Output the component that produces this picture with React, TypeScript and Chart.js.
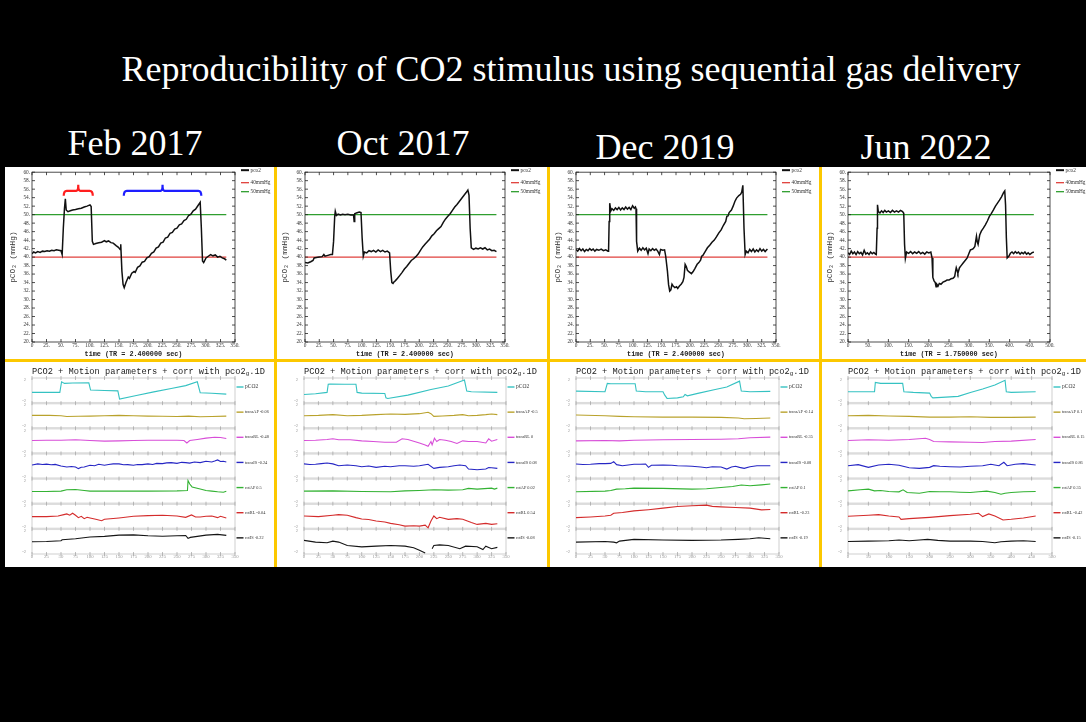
import React, { useEffect, useRef } from "react";
import { Chart, registerables } from "chart.js";

Chart.register(...registerables);

type Pair = [number, number | null];

// ---------------- text & axis settings ----------------
const slideTitle = "Reproducibility of CO2 stimulus using sequential gas delivery";
const panelDates = ["Feb 2017", "Oct 2017", "Dec 2019", "Jun 2022"];
const panelTR = ["2.400000", "2.400000", "2.400000", "1.750000"];
const panelXMax = [350, 350, 350, 500];
const panelXStep = [25, 25, 25, 50];

const pco2AxisMin = 20;
const pco2AxisMax = 60;
const pco2AxisStep = 2;
const refLevels = [40, 50];
const refLabels = ["40mmHg", "50mmHg"];

// brackets drawn over the Feb 2017 chart (time start, time end), level in mmHg
const bracketStarts = [54.7, 158.3];
const bracketEnds = [104.8, 291.9];
const bracketLevel = 55.6;

// ---------------- top charts: pCO2 (time, mmHg) ----------------
const feb2017Pco2: Pair[] = [
  [0, 40.8], [3, 41.2], [6, 41.0], [10, 41.3], [14, 41.1], [18, 41.4], [22, 41.3], [26, 41.5], [30, 41.4],
  [34, 41.6], [38, 41.5], [42, 41.7], [46, 41.6], [50, 41.5], [52, 40.6], [54, 46.8], [56, 51.5], [57.5, 53.7],
  [59, 51.1], [62, 50.7], [66, 50.9], [70, 51.1], [75, 51.2], [80, 51.4], [85, 51.5], [90, 51.8], [95, 52.0],
  [100, 52.3], [102, 51.9], [104, 43.7], [106, 43.0], [110, 43.2], [115, 43.4], [120, 43.5], [125, 43.9],
  [128, 43.6], [132, 43.8], [136, 43.4], [140, 43.3], [145, 42.7], [149, 42.3], [152, 41.8], [153, 43.0],
  [155, 36.7], [157, 33.6], [159, 32.8], [162, 34.0], [166, 35.3], [168, 35.0], [172, 36.2], [176, 36.6],
  [178, 36.4], [182, 37.6], [186, 37.9], [190, 38.8], [194, 39.0], [198, 39.8], [202, 40.1], [206, 40.9],
  [210, 41.2], [214, 42.1], [218, 42.4], [222, 43.3], [226, 43.5], [230, 44.5], [234, 44.7], [238, 45.6],
  [242, 45.8], [246, 46.6], [250, 46.8], [254, 47.6], [258, 47.8], [262, 48.6], [266, 48.9], [270, 49.8],
  [274, 50.1], [278, 50.9], [282, 51.3], [286, 52.1], [290, 52.9], [292, 46.8], [294, 39.1], [296, 38.7],
  [300, 39.8], [304, 40.2], [308, 40.6], [312, 40.3], [316, 40.5], [320, 40.0], [324, 40.2], [328, 39.8],
  [332, 39.6], [335, 39.3],
];

const oct2017Pco2: Pair[] = [
  [0, 38.7], [5, 38.6], [10, 38.9], [14, 39.2], [16, 39.8], [20, 39.9], [25, 40.0], [30, 40.1], [33, 40.6],
  [35, 40.2], [40, 40.4], [45, 40.6], [48, 40.6], [50, 43.7], [52, 49.6], [53, 50.8], [55, 49.8], [58, 50.1],
  [62, 49.9], [66, 50.1], [70, 50.0], [75, 50.1], [80, 49.9], [85, 49.9], [86, 48.4], [87, 50.2], [90, 50.4],
  [95, 50.6], [98, 50.5], [100, 44.5], [102, 40.2], [104, 41.2], [108, 41.0], [112, 41.5], [116, 41.3],
  [120, 41.6], [124, 41.2], [128, 41.7], [132, 41.3], [136, 41.6], [140, 41.2], [144, 41.4], [148, 41.0],
  [150, 36.7], [152, 34.0], [154, 33.8], [156, 34.2], [158, 34.4], [162, 35.0], [166, 35.7], [170, 36.4],
  [174, 37.2], [178, 37.8], [182, 38.5], [186, 39.2], [190, 39.6], [194, 40.1], [198, 40.7], [202, 41.6],
  [206, 42.4], [210, 43.0], [214, 43.6], [218, 44.2], [222, 45.0], [226, 45.5], [230, 46.2], [234, 46.7],
  [238, 47.2], [242, 48.2], [246, 49.0], [250, 49.6], [254, 50.2], [258, 51.0], [262, 51.8], [266, 52.4],
  [270, 53.1], [274, 53.8], [278, 54.5], [282, 55.2], [285, 55.8], [287, 54.6], [289, 46.8], [291, 42.2],
  [295, 41.8], [299, 42.1], [303, 41.9], [307, 42.2], [311, 41.9], [315, 42.2], [319, 41.7], [323, 41.9],
  [327, 41.5], [331, 41.6], [335, 41.3],
];

const dec2019Pco2: Pair[] = [
  [0, 41.8], [3, 41.4], [6, 42.0], [9, 41.5], [12, 41.9], [15, 41.3], [18, 41.8], [21, 41.5], [24, 42.0],
  [27, 41.6], [30, 41.9], [33, 41.4], [36, 41.8], [40, 41.6], [44, 41.9], [48, 41.5], [52, 41.7], [56, 41.4],
  [57, 41.5], [58, 48.4], [59, 52.7], [61, 50.9], [63, 51.4], [66, 51.0], [69, 51.6], [72, 51.2], [75, 51.7],
  [78, 51.1], [81, 51.6], [84, 51.2], [87, 51.8], [90, 51.3], [93, 51.7], [96, 51.2], [99, 52.1], [102, 51.5],
  [104, 51.8], [105, 51.4], [106, 43.7], [108, 41.4], [111, 42.1], [114, 41.6], [117, 42.2], [120, 41.7],
  [123, 42.1], [126, 40.8], [128, 41.9], [131, 41.5], [134, 42.0], [137, 41.6], [140, 41.9], [143, 41.4],
  [146, 40.6], [148, 41.8], [152, 41.6], [155, 41.7], [157, 40.2], [160, 36.7], [162, 33.5], [164, 32.0],
  [166, 32.3], [168, 33.6], [170, 33.2], [173, 32.8], [176, 33.0], [178, 32.6], [181, 33.2], [184, 33.6],
  [187, 34.2], [189, 35.2], [191, 38.3], [193, 37.8], [195, 36.9], [198, 36.5], [202, 36.1], [205, 36.6],
  [208, 37.3], [212, 38.3], [215, 38.7], [218, 39.3], [220, 40.2], [222, 40.4], [226, 41.3], [230, 42.2],
  [234, 42.8], [238, 43.5], [242, 44.0], [246, 44.8], [250, 45.7], [254, 46.4], [258, 47.5], [262, 48.4],
  [264, 49.6], [266, 49.7], [268, 50.5], [272, 51.1], [275, 52.0], [278, 53.1], [281, 53.9], [285, 54.5],
  [288, 54.8], [290, 55.3], [292, 56.9], [294, 46.8], [296, 40.6], [298, 41.4], [301, 41.0], [304, 41.8],
  [307, 41.3], [310, 41.9], [313, 41.2], [316, 41.7], [319, 41.3], [322, 42.0], [325, 41.4], [328, 41.8],
  [331, 41.3], [335, 41.9],
];

const jun2022Pco2: Pair[] = [
  [0, 41.0], [4, 40.6], [8, 41.4], [12, 40.8], [16, 41.2], [20, 40.6], [24, 41.3], [28, 40.8], [32, 41.1],
  [36, 40.5], [40, 41.6], [44, 40.7], [48, 41.0], [52, 40.6], [56, 41.2], [60, 40.8], [64, 41.1], [68, 40.7],
  [70, 40.6], [72, 46.8], [73, 52.3], [75, 50.7], [79, 50.4], [83, 50.9], [87, 50.5], [91, 51.0], [95, 50.6],
  [100, 50.9], [105, 50.5], [110, 51.0], [115, 50.6], [120, 50.9], [125, 50.6], [130, 51.0], [135, 50.7],
  [138, 50.3], [140, 43.0], [142, 39.7], [145, 41.2], [150, 40.9], [155, 41.3], [160, 40.8], [165, 41.2],
  [170, 40.9], [175, 41.3], [180, 40.8], [185, 41.1], [190, 40.7], [195, 41.2], [200, 41.0], [205, 41.2],
  [208, 39.8], [210, 35.2], [213, 34.4], [216, 34.0], [218, 33.0], [220, 33.6], [223, 33.2], [226, 33.8],
  [230, 33.6], [235, 34.1], [240, 34.3], [245, 34.6], [250, 34.6], [255, 34.9], [260, 35.0], [264, 35.4],
  [266, 36.5], [268, 37.5], [270, 36.9], [272, 36.2], [276, 37.5], [280, 38.0], [285, 38.6], [290, 39.2],
  [295, 39.8], [300, 41.0], [303, 41.7], [306, 41.8], [310, 42.0], [314, 42.5], [318, 44.9], [320, 43.6],
  [322, 43.0], [326, 45.2], [330, 46.1], [335, 46.8], [340, 47.6], [345, 48.5], [350, 49.6], [355, 50.3],
  [360, 51.1], [365, 52.0], [370, 52.7], [375, 53.4], [380, 54.2], [385, 55.2], [388, 55.6], [390, 52.3],
  [392, 44.5], [394, 39.8], [398, 40.2], [402, 40.9], [406, 41.2], [410, 40.8], [414, 41.3], [418, 40.9],
  [422, 41.2], [426, 40.7], [430, 41.1], [434, 40.8], [438, 41.2], [442, 40.7], [446, 41.0], [450, 40.6],
  [455, 41.0], [460, 41.2],
];

// ---------------- bottom charts: normalised traces (time, value) ----------------
const motionNames = ["pCO2", "transAP", "transRL", "transIS", "rotAP", "rotRL", "rotIS"];
const motionColors = ["#35c2c2", "#b9a22c", "#d84ed8", "#2626c4", "#33b233", "#d42c2c", "#151515"];

const feb2017Corr = [-0.06, -0.48, -0.24, 0.5, -0.04, -0.22];
const oct2017Corr = [-0.5, 0, 0.08, 0.02, 0.54, -0.08];
const dec2019Corr = [-0.14, -0.35, -0.08, 0.1, -0.23, -0.19];
const jun2022Corr = [0.1, 0.15, 0.86, 0.35, -0.42, -0.15];

const feb2017NormPco2: Pair[] = [[0, -0.35], [48, -0.35], [51, 1.68], [56, 1.37], [70, 1.45], [98, 1.49], [101, 0.1], [125, 0.0], [148, -0.05], [151, -1.62], [180, -0.95], [210, -0.25], [240, 0.4], [265, 0.95], [285, 1.68], [290, -0.41], [310, -0.5], [335, -0.67]];
const feb2017TransAP: Pair[] = [[0, 0.07], [30, 0.07], [50, 0], [60, -0.14], [80, -0.1], [100, -0.07], [125, 0], [150, 0.07], [175, 0], [200, -0.07], [225, -0.1], [250, -0.14], [270, -0.07], [290, -0.2], [310, -0.14], [335, -0.07]];
const feb2017TransRL: Pair[] = [[0, 0.06], [25, 0.13], [50, 0.13], [75, 0.2], [100, 0.06], [125, -0.06], [150, 0], [175, 0.06], [200, 0.13], [225, 0.13], [250, 0.13], [262, 0.06], [267, -0.4], [272, 0.06], [285, 0.26], [300, 0.52], [315, 0.7], [325, 0.65], [335, 0.45]];
const feb2017TransIS: Pair[] = [[0, 0.2], [10, 0.4], [18, 0.3], [25, 0.35], [33, 0.25], [40, 0.3], [50, 0], [60, -0.2], [68, -0.1], [75, -0.2], [80, -0.5], [85, -0.25], [90, -0.2], [100, 0.13], [108, 0.05], [115, 0.32], [125, 0.15], [132, 0.3], [140, 0.4], [150, 0.4], [158, 0.25], [165, 0.26], [175, 0.15], [182, 0.3], [190, 0.26], [200, 0.4], [208, 0.3], [215, 0.5], [225, 0.45], [232, 0.6], [240, 0.65], [250, 0.5], [258, 0.7], [265, 0.65], [272, 0.55], [280, 0.77], [290, 0.65], [300, 0.9], [310, 0.77], [315, 0.95], [320, 1.16], [325, 0.85], [330, 0.9], [335, 0.77]];
const feb2017RotAP: Pair[] = [[0, -0.06], [25, -0.06], [50, 0], [60, 0.26], [75, 0.32], [90, 0.13], [100, 0], [150, 0], [200, 0], [250, 0.06], [268, 0.13], [269, 2.0], [272, 1.35], [276, 0.8], [290, 0.4], [300, 0.13], [310, 0], [320, -0.13], [330, -0.2], [335, 0]];
const feb2017RotRL: Pair[] = [[0, -0.06], [25, -0.06], [45, 0.06], [55, 0.32], [60, 0.45], [65, 0.2], [70, 0.58], [75, 0.2], [80, -0.26], [85, 0], [90, -0.45], [95, -0.2], [100, -0.32], [110, -0.58], [120, -0.84], [125, -0.58], [150, -0.32], [175, 0], [200, 0.13], [225, 0.2], [250, 0.06], [265, -0.2], [275, 0.26], [282, -0.13], [290, -0.13], [300, 0], [310, 0.06], [320, -0.26], [325, 0], [335, -0.32]];
const feb2017RotIS: Pair[] = [[0, -0.06], [25, 0], [50, 0.13], [52, 0.32], [75, 0.52], [100, 0.84], [125, 0.97], [150, 1.2], [175, 1.26], [200, 1.07], [225, 1.0], [250, 1.07], [265, 1.13], [269, 0.58], [273, 0.77], [285, 0.97], [300, 1.2], [320, 1.35], [335, 1.16]];

const oct2017NormPco2: Pair[] = [[0, -0.74], [20, -0.61], [40, -0.35], [42, 1.2], [45, 1.25], [70, 1.2], [90, 1.2], [92, -0.35], [100, -0.48], [140, -0.55], [142, -1.39], [145, -1.5], [180, -0.87], [220, 0.22], [250, 0.87], [278, 2.0], [282, -0.1], [290, -0.22], [335, -0.35]];
const oct2017TransAP: Pair[] = [[0, 0], [25, 0.06], [50, 0.2], [75, 0], [100, 0.06], [125, 0.2], [150, 0.32], [175, 0.26], [200, 0.39], [215, 0.65], [220, 0.39], [225, -0.13], [240, -0.06], [260, 0.06], [275, 0.2], [285, 0], [300, 0.06], [315, 0.2], [325, 0.32], [335, 0.2]];
const oct2017TransRL: Pair[] = [[0, 0.06], [20, 0.13], [40, 0.26], [50, 0.4], [60, 0.2], [80, 0.2], [100, 0], [120, -0.13], [140, -0.26], [160, -0.26], [170, 0.4], [180, 0.26], [200, -0.4], [210, -0.77], [215, -1.03], [220, -0.13], [222, -0.77], [226, 0.5], [230, -0.13], [235, 0.26], [245, 0.13], [255, -0.13], [265, -0.5], [275, 0], [285, -0.13], [300, -0.13], [315, -0.4], [320, 0.39], [325, -0.06], [335, 0.26]];
const oct2017TransIS: Pair[] = [[0, 0.4], [10, 0.3], [20, 0.32], [30, 0.45], [40, 0.58], [50, 0.4], [60, 0.06], [75, 0.2], [90, 0.06], [100, -0.13], [112, 0], [125, -0.26], [140, -0.06], [150, -0.13], [165, 0.06], [175, 0.06], [190, -0.06], [200, 0.06], [215, 0.32], [225, -0.45], [235, -0.26], [250, -0.13], [260, 0.06], [270, 0.2], [280, 0.06], [285, -0.58], [300, -0.71], [315, -0.58], [320, -0.3], [325, -0.32], [335, -0.45]];
const oct2017RotAP: Pair[] = [[0, 0], [50, 0.06], [100, -0.06], [150, -0.13], [175, 0.06], [200, 0.13], [225, 0.26], [250, 0.2], [275, 0.26], [285, 0.52], [300, 0.39], [325, 0.58], [330, 0.4], [335, 0.58]];
const oct2017RotRL: Pair[] = [[0, 0.06], [25, -0.06], [50, 0.2], [60, 0.32], [75, 0.2], [90, -0.26], [100, -0.52], [112, -0.6], [125, -0.9], [140, -1.1], [150, -1.35], [165, -1.6], [175, -1.87], [190, -1.8], [200, -1.87], [210, -1.7], [215, -2.2], [220, -0.9], [225, 0.06], [230, -0.45], [235, -0.2], [250, -0.58], [265, -0.45], [275, -0.58], [290, -1.2], [300, -1.55], [315, -1.35], [325, -1.55], [335, -1.42]];
const oct2017RotIS: Pair[] = [[0, 0.2], [20, -0.13], [40, -0.26], [50, 0.06], [60, -0.13], [75, -0.77], [100, -1.03], [125, -0.9], [150, -0.77], [175, -0.9], [190, -1.2], [200, -1.68], [210, -2.2], [213, null], [220, null], [222, -1.39], [225, -0.77], [235, -0.65], [250, -0.77], [270, -1.39], [280, -0.9], [300, -1.03], [310, -1.55], [315, -0.9], [325, -1.39], [335, -1.13]];

const dec2019NormPco2: Pair[] = [[0, -0.1], [50, -0.22], [54, 1.37], [60, 1.3], [80, 1.3], [102, 1.3], [104, -0.1], [120, -0.22], [150, -0.22], [153, -0.87], [157, -1.5], [175, -1.4], [185, -1.2], [188, -0.74], [192, -1.0], [210, -0.54], [240, 0.22], [260, 0.67], [282, 1.8], [285, -0.1], [300, -0.22], [335, -0.16]];
const dec2019TransAP: Pair[] = [[0, 0.13], [50, 0], [75, -0.13], [100, -0.2], [150, -0.26], [200, -0.26], [250, -0.32], [280, -0.45], [290, -0.58], [310, -0.52], [335, -0.45]];
const dec2019TransRL: Pair[] = [[0, 0], [50, 0.06], [75, 0], [100, 0.13], [150, 0.2], [200, 0.26], [250, 0.32], [280, 0.39], [300, 0.58], [335, 0.71]];
const dec2019TransIS: Pair[] = [[0, 0.39], [12, 0.3], [25, 0.32], [40, 0.45], [50, 0.45], [60, 0.5], [65, 0.84], [70, 0.26], [80, 0.06], [90, 0.2], [100, 0.32], [110, 0.32], [120, 0.39], [125, -0.26], [130, 0.13], [150, 0.2], [165, 0.13], [175, 0.06], [190, 0], [200, -0.06], [215, -0.2], [225, -0.32], [235, -0.13], [250, -0.2], [260, -0.58], [268, -0.2], [275, -0.06], [282, -0.26], [290, -0.45], [300, -0.13], [312, 0.06], [325, 0.06], [335, 0.06]];
const dec2019RotAP: Pair[] = [[0, -0.13], [50, 0], [60, 0.13], [70, 0.39], [85, 0.45], [100, 0.58], [150, 0.52], [200, 0.39], [225, 0.45], [250, 0.71], [270, 0.9], [285, 1.16], [300, 1.03], [320, 1.2], [335, 1.35]];
const dec2019RotRL: Pair[] = [[0, -0.26], [25, -0.13], [50, 0.06], [60, 0.2], [65, 0.58], [80, 0.71], [100, 1.03], [125, 1.26], [150, 1.55], [175, 1.87], [200, 2.0], [225, 2.13], [235, 1.9], [250, 1.8], [275, 1.68], [300, 1.55], [320, 1.23], [335, 1.29]];
const dec2019RotIS: Pair[] = [[0, -0.13], [50, 0], [65, -0.13], [70, -0.26], [75, 0.06], [100, 0.39], [150, 0.26], [200, 0.2], [250, 0.26], [280, 0.39], [300, 0.52], [315, 0.71], [335, 0.52]];

const jun2022NormPco2: Pair[] = [[0, -0.22], [65, -0.22], [67, 1.55], [80, 1.37], [134, 1.37], [137, -0.22], [160, -0.35], [200, -0.48], [204, -1.1], [208, -1.4], [240, -1.26], [270, -1.1], [300, -0.35], [330, 0.29], [360, 1.06], [385, 1.95], [388, -0.22], [400, -0.35], [460, -0.22]];
const jun2022TransAP: Pair[] = [[0, 0], [50, 0.06], [100, -0.06], [150, -0.13], [200, -0.26], [250, -0.26], [300, -0.2], [350, -0.32], [400, -0.32], [460, -0.26]];
const jun2022TransRL: Pair[] = [[0, 0.06], [50, 0.2], [100, 0.13], [150, 0.26], [190, 0.5], [200, 0.26], [210, -0.13], [250, -0.2], [300, -0.26], [330, -0.32], [360, -0.13], [400, -0.06], [460, 0.26]];
const jun2022TransIS: Pair[] = [[0, 0.06], [25, 0.26], [50, -0.26], [75, 0.2], [100, 0.32], [125, 0.13], [150, -0.32], [175, -0.45], [200, -0.26], [210, 0.06], [225, -0.06], [250, -0.13], [275, -0.2], [300, -0.06], [330, 0.06], [350, 0.32], [370, 0.06], [382, 0.7], [390, 0.06], [410, 0.32], [430, 0.45], [460, 0.2]];
const jun2022RotAP: Pair[] = [[0, 0.06], [30, 0.26], [50, 0.39], [65, 0.06], [80, 0.13], [100, -0.06], [125, -0.13], [135, 0.26], [145, -0.26], [175, -0.39], [200, -0.06], [225, -0.13], [250, -0.13], [275, -0.2], [300, -0.26], [320, -0.13], [340, 0], [360, -0.26], [375, -0.58], [385, -0.39], [400, -0.26], [430, -0.13], [460, -0.06]];
const jun2022RotRL: Pair[] = [[0, 0], [50, 0.2], [75, 0.32], [100, 0.06], [125, -0.13], [130, -0.58], [150, -0.45], [200, -0.2], [250, 0.13], [300, 0.39], [320, 0.58], [330, -0.06], [345, 0.45], [360, 0.06], [380, -0.71], [400, -0.58], [430, -0.32], [460, 0.06]];
const jun2022RotIS: Pair[] = [[0, 0], [50, 0.06], [100, 0.13], [125, 0.26], [150, 0.13], [175, 0.26], [195, 0.39], [220, 0.2], [250, 0.06], [300, 0.06], [330, 0], [360, -0.26], [375, -0.06], [400, 0.06], [430, 0.13], [460, 0]];

const topSeries = [feb2017Pco2, oct2017Pco2, dec2019Pco2, jun2022Pco2];
const motionSeries = [
  [feb2017NormPco2, feb2017TransAP, feb2017TransRL, feb2017TransIS, feb2017RotAP, feb2017RotRL, feb2017RotIS],
  [oct2017NormPco2, oct2017TransAP, oct2017TransRL, oct2017TransIS, oct2017RotAP, oct2017RotRL, oct2017RotIS],
  [dec2019NormPco2, dec2019TransAP, dec2019TransRL, dec2019TransIS, dec2019RotAP, dec2019RotRL, dec2019RotIS],
  [jun2022NormPco2, jun2022TransAP, jun2022TransRL, jun2022TransIS, jun2022RotAP, jun2022RotRL, jun2022RotIS],
];
const motionCorr = [feb2017Corr, oct2017Corr, dec2019Corr, jun2022Corr];

// ---------------- layout (pixels) ----------------
const COLS = [
  { x0: 5, x1: 274, top: [32, 235], bot: [32, 235] },
  { x0: 277, x1: 547, top: [305, 505], bot: [304, 506] },
  { x0: 550, x1: 819, top: [576, 776], bot: [576, 779] },
  { x0: 822, x1: 1086, top: [848, 1050], bot: [848, 1052] },
];
const TOP_Y0 = 167, TOP_Y1 = 359, TOP_PLOT = [170, 342];
const BOT_Y0 = 362, BOT_Y1 = 567, BOT_PLOT = [378, 554];
const DATE_CX = [135, 403, 665, 926];
const DATE_TOP = [125, 125, 129, 129];
const YELLOW = "#fcc800";
const SERIF = "'Liberation Serif', 'DejaVu Serif', serif";
const MONO = "'Liberation Mono', 'DejaVu Sans Mono', monospace";
const BAND = 4.8;
const bandCenter = (k: number) => (6 - k) * BAND + BAND / 2;

const refColors = ["#e0403c", "#2f9e2f"];
const bracketColors = ["#ff1e1e", "#1e1eff"];

function TopPanel({ idx }: { idx: number }) {
  const ref = useRef<HTMLCanvasElement>(null);
  const c = COLS[idx];
  const width = c.x1 - c.x0;
  const height = TOP_Y1 - TOP_Y0;
  useEffect(() => {
    const series = topSeries[idx];
    const xEnd = series[series.length - 1][0];
    const padLeft = c.top[0] - c.x0;
    const padRight = c.x1 - c.top[1];
    const padTop = TOP_PLOT[0] - TOP_Y0;
    const padBottom = TOP_Y1 - TOP_PLOT[1];
    const datasets: any[] = [
      {
        label: "pco2",
        data: series.map(([x, y]) => ({ x, y })),
        borderColor: "#111",
        borderWidth: 1.5,
        pointRadius: 0,
        tension: 0,
      },
      ...refLevels.map((lv, i) => ({
        label: refLabels[i],
        data: [{ x: 0, y: lv }, { x: xEnd, y: lv }],
        borderColor: refColors[i],
        borderWidth: 1.2,
        pointRadius: 0,
      })),
    ];
    const deco = {
      id: "topDeco",
      afterDatasetsDraw(chart: any) {
        const { ctx, chartArea: a, scales } = chart;
        const xs = scales.x, ys = scales.y;
        ctx.save();
        if (idx === 0) {
          bracketStarts.forEach((s: number, i: number) => {
            const x0 = xs.getPixelForValue(s);
            const x1 = xs.getPixelForValue(bracketEnds[i]);
            const xm = (x0 + x1) / 2;
            const yb = ys.getPixelForValue(bracketLevel);
            ctx.strokeStyle = bracketColors[i];
            ctx.lineWidth = 2.2;
            ctx.beginPath();
            ctx.moveTo(x0, yb + 5);
            ctx.quadraticCurveTo(x0, yb, x0 + 3, yb);
            ctx.lineTo(xm - 2, yb);
            ctx.quadraticCurveTo(xm, yb, xm, yb - 6);
            ctx.quadraticCurveTo(xm, yb, xm + 2, yb);
            ctx.lineTo(x1 - 3, yb);
            ctx.quadraticCurveTo(x1, yb, x1, yb + 5);
            ctx.stroke();
          });
        }
        ctx.strokeStyle = "#222";
        ctx.lineWidth = 0.8;
        ctx.strokeRect(a.left, a.top, a.right - a.left, a.bottom - a.top);
        ctx.beginPath();
        xs.ticks.forEach((t: any) => {
          const p = xs.getPixelForValue(t.value);
          ctx.moveTo(p, a.bottom); ctx.lineTo(p, a.bottom - 3);
          ctx.moveTo(p, a.top); ctx.lineTo(p, a.top + 3);
        });
        ys.ticks.forEach((t: any) => {
          const p = ys.getPixelForValue(t.value);
          ctx.moveTo(a.left, p); ctx.lineTo(a.left + 3, p);
          ctx.moveTo(a.right, p); ctx.lineTo(a.right - 3, p);
        });
        ctx.stroke();
        const legY = [a.top - 2, a.top + 10.5, a.top + 19.5];
        chart.data.datasets.forEach((d: any, i: number) => {
          ctx.strokeStyle = d.borderColor;
          ctx.lineWidth = i === 0 ? 2 : 1.3;
          ctx.beginPath();
          ctx.moveTo(a.right + 6, legY[i]);
          ctx.lineTo(a.right + 14, legY[i]);
          ctx.stroke();
          ctx.fillStyle = "#333";
          ctx.font = `5.3px ${SERIF}`;
          ctx.textBaseline = "middle";
          ctx.textAlign = "left";
          ctx.fillText(d.label, a.right + 15.5, legY[i]);
        });
        ctx.restore();
      },
    };
    const chart = new Chart(ref.current as HTMLCanvasElement, {
      type: "line",
      data: { datasets },
      options: {
        animation: false,
        responsive: false,
        devicePixelRatio: 1,
        events: [],
        layout: { padding: { left: 0, right: padRight, top: padTop, bottom: 0 } },
        plugins: { legend: { display: false }, tooltip: { enabled: false } },
        scales: {
          x: {
            type: "linear",
            min: 0,
            max: panelXMax[idx],
            grid: { display: false, drawTicks: false },
            border: { display: false },
            ticks: {
              stepSize: panelXStep[idx],
              autoSkip: false,
              maxRotation: 0,
              padding: 0.5,
              color: "#333",
              font: { size: 5.3, family: SERIF },
              callback: (v: any) => (v === 0 ? "0" : `${v}.`),
            },
            title: {
              display: true,
              text: `time (TR = ${panelTR[idx]} sec)`,
              color: "#222",
              font: { size: 6.8, family: MONO, weight: "bold" },
              padding: { top: 0, bottom: 0.8 },
            },
            afterFit: (s: any) => { s.height = padBottom; },
          },
          y: {
            type: "linear",
            min: pco2AxisMin,
            max: pco2AxisMax,
            grid: { display: false, drawTicks: false },
            border: { display: false },
            ticks: {
              stepSize: pco2AxisStep,
              autoSkip: false,
              padding: 2,
              color: "#333",
              font: { size: 5.3, family: SERIF },
              callback: (v: any) => `${v}.`,
            },
            title: {
              display: true,
              text: "pCO₂ (mmHg)",
              color: "#333",
              font: { size: 7.8, family: MONO },
              padding: { top: 3.6, bottom: 0 },
            },
            afterFit: (s: any) => { s.width = padLeft; },
          },
        },
      } as any,
      plugins: [deco],
    });
    return () => chart.destroy();
  }, [idx]);
  return (
    <canvas
      ref={ref}
      width={width}
      height={height}
      style={{ position: "absolute", left: c.x0, top: TOP_Y0, width, height, background: "#fff" }}
    />
  );
}

function MotionPanel({ idx }: { idx: number }) {
  const ref = useRef<HTMLCanvasElement>(null);
  const c = COLS[idx];
  const width = c.x1 - c.x0;
  const height = BOT_Y1 - BOT_Y0;
  useEffect(() => {
    const padLeft = c.bot[0] - c.x0;
    const padRight = c.x1 - c.bot[1];
    const padTop = BOT_PLOT[0] - BOT_Y0;
    const padBottom = BOT_Y1 - BOT_PLOT[1];
    const labels = motionNames.map((n, k) => (k === 0 ? n : `${n} ${motionCorr[idx][k - 1]}`));
    const datasets: any[] = motionSeries[idx].map((s, k) => ({
      label: labels[k],
      data: s.map(([x, v]) => ({ x, y: v === null ? null : bandCenter(k) + v })),
      borderColor: motionColors[k],
      borderWidth: 1.1,
      pointRadius: 0,
      tension: 0,
      spanGaps: false,
    }));
    const bandTicks: number[] = [];
    for (let k = 6; k >= 0; k--) {
      bandTicks.push(bandCenter(k) - 2, bandCenter(k) + 2);
    }
    const deco = {
      id: "bandDeco",
      beforeDatasetsDraw(chart: any) {
        const { ctx, chartArea: a, scales } = chart;
        const xs = scales.x, ys = scales.y;
        ctx.save();
        ctx.fillStyle = "#dcdcdc";
        for (let k = 1; k < 7; k++) {
          const yb = ys.getPixelForValue(k * BAND);
          ctx.fillRect(a.left, yb - 1.2, a.right - a.left, 2.4);
        }
        ctx.strokeStyle = "#c4c4c4";
        ctx.lineWidth = 0.8;
        ctx.strokeRect(a.left, a.top, a.right - a.left, a.bottom - a.top);
        ctx.strokeStyle = "#a0a0a0";
        ctx.lineWidth = 0.7;
        ctx.beginPath();
        for (let k = 0; k <= 7; k++) {
          const yb = ys.getPixelForValue(k * BAND);
          xs.ticks.forEach((t: any) => {
            const p = xs.getPixelForValue(t.value);
            ctx.moveTo(p, yb - 2);
            ctx.lineTo(p, yb + 2);
          });
        }
        ctx.stroke();
        ctx.restore();
      },
      afterDatasetsDraw(chart: any) {
        const { ctx, chartArea: a, scales } = chart;
        const ys = scales.y;
        ctx.save();
        chart.data.datasets.forEach((d: any, k: number) => {
          const yl = ys.getPixelForValue((7 - k) * BAND) + 9;
          ctx.strokeStyle = d.borderColor;
          ctx.lineWidth = 1.4;
          ctx.beginPath();
          ctx.moveTo(a.right + 1.5, yl);
          ctx.lineTo(a.right + 8.5, yl);
          ctx.stroke();
          ctx.fillStyle = "#333";
          ctx.font = `${k === 0 ? 5.5 : 4.3}px ${SERIF}`;
          ctx.textBaseline = "middle";
          ctx.textAlign = "left";
          ctx.fillText(d.label, a.right + 10, yl);
        });
        ctx.restore();
      },
    };
    const chart = new Chart(ref.current as HTMLCanvasElement, {
      type: "line",
      data: { datasets },
      options: {
        animation: false,
        responsive: false,
        devicePixelRatio: 1,
        events: [],
        layout: { padding: { left: 0, right: padRight, top: padTop, bottom: 0 } },
        plugins: { legend: { display: false }, tooltip: { enabled: false } },
        scales: {
          x: {
            type: "linear",
            min: 0,
            max: panelXMax[idx],
            grid: { display: false, drawTicks: false },
            border: { display: false },
            ticks: {
              stepSize: panelXStep[idx],
              autoSkip: false,
              maxRotation: 0,
              padding: 0,
              color: "#9a9a9a",
              font: { size: 4.8, family: SERIF },
            },
            afterFit: (s: any) => { s.height = padBottom; },
          },
          y: {
            type: "linear",
            min: 0,
            max: 7 * BAND,
            grid: { display: false, drawTicks: false },
            border: { display: false },
            afterBuildTicks: (s: any) => { s.ticks = bandTicks.map((v) => ({ value: v })); },
            ticks: {
              autoSkip: false,
              padding: 6,
              color: "#9a9a9a",
              font: { size: 4.5, family: SERIF },
              callback: (_v: any, i: number) => (i % 2 === 0 ? "-2" : "2"),
            },
            afterFit: (s: any) => { s.width = padLeft; },
          },
        },
      } as any,
      plugins: [deco],
    });
    return () => chart.destroy();
  }, [idx]);
  return (
    <>
      <canvas
        ref={ref}
        width={width}
        height={height}
        style={{ position: "absolute", left: c.x0, top: BOT_Y0, width, height, background: "#fff" }}
      />
      <div
        style={{
          position: "absolute",
          left: c.bot[0],
          top: 366.5,
          fontFamily: MONO,
          fontSize: "8.7px",
          lineHeight: "10px",
          color: "#222",
          whiteSpace: "nowrap",
        }}
      >
        PCO2 + Motion parameters + corr with pco2<sub style={{ fontSize: "5.8px", verticalAlign: "-1px" }}>g</sub>.1D
      </div>
    </>
  );
}

export default function App() {
  return (
    <div
      style={{
        position: "absolute",
        left: 0,
        top: 0,
        width: 1086,
        height: 722,
        background: "#000",
        overflow: "hidden",
      }}
    >
      <div
        style={{
          position: "absolute",
          left: 71,
          width: 1000,
          top: 51,
          textAlign: "center",
          color: "#fff",
          fontFamily: SERIF,
          fontSize: "36px",
          lineHeight: "36px",
          whiteSpace: "nowrap",
        }}
      >
        {slideTitle}
      </div>
      {panelDates.map((d, i) => (
        <div
          key={d}
          style={{
            position: "absolute",
            left: DATE_CX[i] - 100,
            width: 200,
            top: DATE_TOP[i],
            textAlign: "center",
            color: "#fff",
            fontFamily: SERIF,
            fontSize: "36px",
            lineHeight: "36px",
            whiteSpace: "nowrap",
          }}
        >
          {d}
        </div>
      ))}
      {COLS.map((_c, i) => (
        <TopPanel key={`t${i}`} idx={i} />
      ))}
      {COLS.map((_c, i) => (
        <MotionPanel key={`b${i}`} idx={i} />
      ))}
      <div style={{ position: "absolute", left: 5, top: TOP_Y1, width: 1081, height: 3, background: YELLOW }} />
      {[274, 547, 819].map((x) => (
        <div key={x} style={{ position: "absolute", left: x, top: TOP_Y0, width: 3, height: BOT_Y1 - TOP_Y0, background: YELLOW }} />
      ))}
    </div>
  );
}
